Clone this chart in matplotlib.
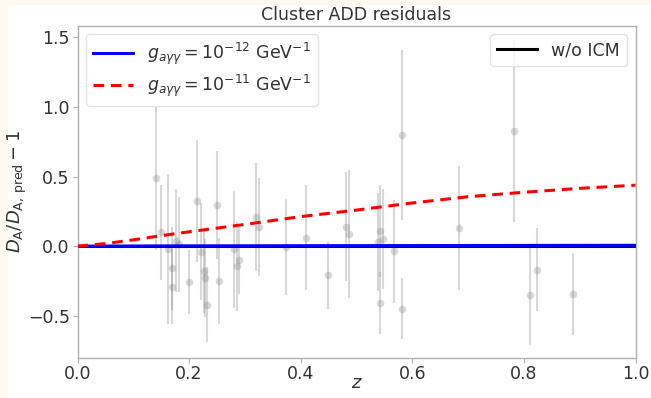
import matplotlib
matplotlib.use("Agg")
import matplotlib.pyplot as plt
from matplotlib.patches import Rectangle

# Data points (redshift, residual, error)
z_data = [0.140, 0.150, 0.1625, 0.169, 0.169, 0.177, 0.182, 0.200, 0.215, 0.2216,
          0.227, 0.229, 0.232, 0.250, 0.2527, 0.280, 0.2855, 0.290, 0.320, 0.325,
          0.3728, 0.410, 0.449, 0.481, 0.487, 0.539, 0.543, 0.5425, 0.548, 0.568,
          0.581, 0.582, 0.684, 0.782, 0.811, 0.824, 0.888]
res_data = [0.49, 0.10, -0.02, -0.16, -0.29, 0.04, 0.012, -0.26, 0.326, -0.04,
            -0.18, -0.23, -0.42, 0.295, -0.25, -0.024, -0.145, -0.097, 0.21, 0.138,
            -0.007, 0.06, -0.21, 0.14, 0.085, 0.029, 0.109, -0.408, 0.053, -0.036,
            0.797, -0.45, 0.128, 0.828, -0.35, -0.169, -0.343]
err_data = [0.52, 0.34, 0.54, 0.30, 0.27, 0.37, 0.34, 0.23, 0.44, 0.35,
            0.30, 0.28, 0.27, 0.39, 0.31, 0.42, 0.32, 0.25, 0.39, 0.35,
            0.345, 0.377, 0.24, 0.39, 0.46, 0.35, 0.33, 0.22, 0.36, 0.37,
            0.61, 0.22, 0.445, 0.654, 0.357, 0.30, 0.295]

# Model curves
z_model = [0.0, 0.05, 0.1, 0.15, 0.2, 0.3, 0.4, 0.5, 0.6, 0.7, 0.8, 0.9, 1.0]
g12_model = [0.0, 0.0005, 0.001, 0.0015, 0.002, 0.0025, 0.003, 0.0035, 0.004, 0.0045, 0.005, 0.0055, 0.006]
g11_model = [0.0, 0.018, 0.045, 0.075, 0.103, 0.156, 0.212, 0.259, 0.310, 0.355, 0.387, 0.415, 0.438]
noicm_model = [0.0] * len(z_model)

labels = [r'$g_{a\gamma\gamma} = 10^{-12}$ GeV$^{-1}$',
          r'$g_{a\gamma\gamma} = 10^{-11}$ GeV$^{-1}$']

txt = '#333333'
spine = '#b0b0b0'
plt.rcParams['font.family'] = ['DejaVu Sans']
plt.rcParams['mathtext.fontset'] = 'dejavusans'

fig = plt.figure(figsize=(6.51, 3.98), dpi=100)
fig.patch.set_facecolor('#fffaf0')
fig.patches.append(Rectangle((8/651, 0), 1, 393/398, transform=fig.transFigure,
                             facecolor='white', edgecolor='none', zorder=-10))
ax = fig.add_axes([77.5/651, 1 - 357.5/398, (635.5 - 77.5)/651, (357.5 - 25.5)/398])

ax.errorbar(z_data, res_data, yerr=err_data, fmt='o', color='grey', alpha=0.3,
            markersize=5.5, markeredgewidth=0, elinewidth=1.5, capsize=0, zorder=1)

l0, = ax.plot(z_model, noicm_model, color='black', lw=2.2, zorder=2, label='w/o ICM')
l1, = ax.plot(z_model, g12_model, color='blue', lw=2.2, zorder=3, label=labels[0])
l2, = ax.plot(z_model, g11_model, color='red', lw=2.2, ls=(0, (3.5, 2.2)), zorder=4, label=labels[1])

ax.set_xlim(0, 1)
ax.set_ylim(-0.8, 1.585)
ax.set_xticks([0, 0.2, 0.4, 0.6, 0.8, 1.0])
ax.set_yticks([-0.5, 0.0, 0.5, 1.0, 1.5])
ax.tick_params(colors=spine, labelcolor=txt, labelsize=12.5, length=3.5, width=0.8, pad=2)
for s in ax.spines.values():
    s.set_color(spine)
    s.set_linewidth(1.0)

ax.set_title('Cluster ADD residuals', fontsize=12.5, color=txt, pad=4)
ax.set_xlabel(r'$z$', fontsize=13, color=txt)
ax.set_ylabel(r'$D_\mathrm{A}/D_\mathrm{A,\,pred}-1$', fontsize=13, color=txt)
ax.xaxis.set_label_coords(0.5, -0.05)
ax.yaxis.set_label_coords(-0.087, 0.5)

leg1 = ax.legend(handles=[l1, l2], loc='upper left', fontsize=12.5, framealpha=0.8,
                 edgecolor='#dddddd', labelcolor=txt, handlelength=2.3, labelspacing=0.3)
ax.add_artist(leg1)
ax.legend(handles=[l0], loc='upper right', fontsize=12.5, framealpha=0.8,
          edgecolor='#dddddd', labelcolor=txt, handlelength=2.3)

fig.savefig('out.png', dpi=100, facecolor=fig.get_facecolor())
